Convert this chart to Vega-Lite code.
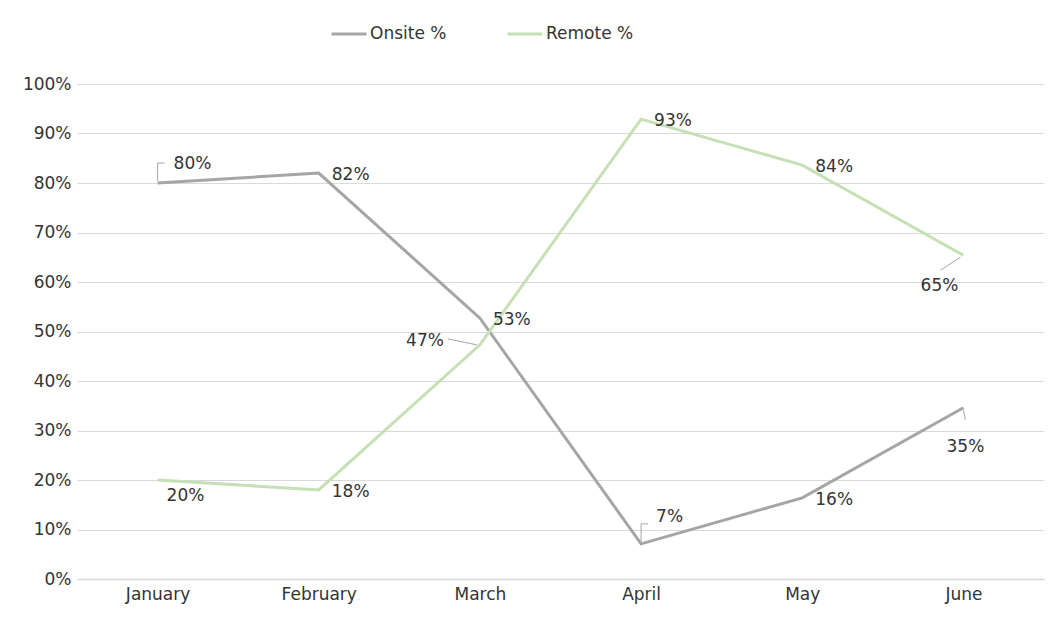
{
  "$schema": "https://vega.github.io/schema/vega-lite/v6.json",
  "width": 967,
  "height": 495,
  "autosize": {"type": "none"},
  "padding": {"left": 77, "top": 84, "right": 7, "bottom": 38},
  "background": "white",
  "config": {
    "view": {"stroke": null},
    "font": "DejaVu Sans",
    "axis": {"labelFont": "DejaVu Sans", "labelFontSize": 17, "labelColor": "#333333", "ticks": false, "title": null},
    "legend": {"labelFont": "DejaVu Sans", "labelFontSize": 17, "labelColor": "#333333"}
  },
  "data": {
    "values": [
      {"month": "January", "series": "Onsite %", "value": 0.80},
      {"month": "February", "series": "Onsite %", "value": 0.82},
      {"month": "March", "series": "Onsite %", "value": 0.527},
      {"month": "April", "series": "Onsite %", "value": 0.071},
      {"month": "May", "series": "Onsite %", "value": 0.164},
      {"month": "June", "series": "Onsite %", "value": 0.346},
      {"month": "January", "series": "Remote %", "value": 0.20},
      {"month": "February", "series": "Remote %", "value": 0.18},
      {"month": "March", "series": "Remote %", "value": 0.473},
      {"month": "April", "series": "Remote %", "value": 0.929},
      {"month": "May", "series": "Remote %", "value": 0.836},
      {"month": "June", "series": "Remote %", "value": 0.654}
    ]
  },
  "encoding": {
    "x": {
      "field": "month", "type": "ordinal",
      "sort": ["January", "February", "March", "April", "May", "June"],
      "scale": {"type": "point", "padding": 0.5},
      "axis": {"labelAngle": 0, "labelPadding": 7, "domain": true, "domainColor": "#d9d9d9", "domainWidth": 1.5, "grid": false}
    },
    "y": {
      "field": "value", "type": "quantitative",
      "scale": {"domain": [0, 1]},
      "axis": {"format": ".0%", "values": [0, 0.1, 0.2, 0.3, 0.4, 0.5, 0.6, 0.7, 0.8, 0.9, 1], "domain": false, "grid": true, "gridColor": "#d9d9d9", "gridWidth": 1, "labelPadding": 6}
    }
  },
  "layer": [
    {
      "transform": [{"filter": "(datum.series == 'Onsite %' && (datum.month == 'January' || datum.month == 'April'))"}],
      "mark": {"type": "rule", "color": "#a6a6a6", "strokeWidth": 1, "yOffset": -2, "y2Offset": -20},
      "encoding": {"x2": {"field": "month"}, "y2": {"field": "value"}}
    },
    {
      "transform": [{"filter": "(datum.series == 'Onsite %' && (datum.month == 'January' || datum.month == 'April'))"}],
      "mark": {"type": "rule", "color": "#a6a6a6", "strokeWidth": 1, "yOffset": -20, "y2Offset": -20, "x2Offset": 7},
      "encoding": {"x2": {"field": "month"}, "y2": {"field": "value"}}
    },
    {
      "transform": [{"filter": "datum.series == 'Remote %' && datum.month == 'March'"}],
      "mark": {"type": "rule", "color": "#a6a6a6", "strokeWidth": 1, "xOffset": -32, "yOffset": -6, "x2Offset": -3, "y2Offset": 0},
      "encoding": {"x2": {"field": "month"}, "y2": {"field": "value"}}
    },
    {
      "transform": [{"filter": "datum.series == 'Remote %' && datum.month == 'June'"}],
      "mark": {"type": "rule", "color": "#a6a6a6", "strokeWidth": 1, "xOffset": -3, "yOffset": 2, "x2Offset": -23, "y2Offset": 15},
      "encoding": {"x2": {"field": "month"}, "y2": {"field": "value"}}
    },
    {
      "transform": [{"filter": "datum.series == 'Onsite %' && datum.month == 'June'"}],
      "mark": {"type": "rule", "color": "#a6a6a6", "strokeWidth": 1, "xOffset": 0, "yOffset": 2, "x2Offset": 2, "y2Offset": 12},
      "encoding": {"x2": {"field": "month"}, "y2": {"field": "value"}}
    },
    {
      "mark": {"type": "line", "strokeWidth": 3},
      "encoding": {
        "color": {
          "field": "series", "type": "nominal",
          "scale": {"domain": ["Onsite %", "Remote %"], "range": ["#a5a5a5", "#c5e0b4"]},
          "legend": {
            "title": null, "orient": "none", "direction": "horizontal",
            "legendX": 253, "legendY": -69,
            "symbolType": "stroke", "symbolSize": 1225, "symbolStrokeWidth": 3,
            "labelOffset": 2, "columnPadding": 54
          }
        }
      }
    },
    {
      "transform": [{"filter": "(datum.series == 'Onsite %' && (datum.month == 'February' || datum.month == 'March' || datum.month == 'May')) || (datum.series == 'Remote %' && (datum.month == 'February' || datum.month == 'April' || datum.month == 'May'))"}],
      "mark": {"type": "text", "align": "left", "dx": 13, "dy": 2, "fontSize": 17, "color": "#333333"},
      "encoding": {"text": {"field": "value", "format": ".0%"}}
    },
    {
      "transform": [{"filter": "datum.series == 'Onsite %' && datum.month == 'January'"}],
      "mark": {"type": "text", "align": "left", "dx": 16, "dy": -19, "fontSize": 17, "color": "#333333"},
      "encoding": {"text": {"field": "value", "format": ".0%"}}
    },
    {
      "transform": [{"filter": "datum.series == 'Onsite %' && datum.month == 'April'"}],
      "mark": {"type": "text", "align": "left", "dx": 15, "dy": -27, "fontSize": 17, "color": "#333333"},
      "encoding": {"text": {"field": "value", "format": ".0%"}}
    },
    {
      "transform": [{"filter": "datum.series == 'Onsite %' && datum.month == 'June'"}],
      "mark": {"type": "text", "align": "center", "dx": 2, "dy": 39, "fontSize": 17, "color": "#333333"},
      "encoding": {"text": {"field": "value", "format": ".0%"}}
    },
    {
      "transform": [{"filter": "datum.series == 'Remote %' && datum.month == 'January'"}],
      "mark": {"type": "text", "align": "left", "dx": 9, "dy": 16, "fontSize": 17, "color": "#333333"},
      "encoding": {"text": {"field": "value", "format": ".0%"}}
    },
    {
      "transform": [{"filter": "datum.series == 'Remote %' && datum.month == 'March'"}],
      "mark": {"type": "text", "align": "right", "dx": -36, "dy": -4, "fontSize": 17, "color": "#333333"},
      "encoding": {"text": {"field": "value", "format": ".0%"}}
    },
    {
      "transform": [{"filter": "datum.series == 'Remote %' && datum.month == 'June'"}],
      "mark": {"type": "text", "align": "right", "dx": -5, "dy": 31, "fontSize": 17, "color": "#333333"},
      "encoding": {"text": {"field": "value", "format": ".0%"}}
    }
  ]
}
